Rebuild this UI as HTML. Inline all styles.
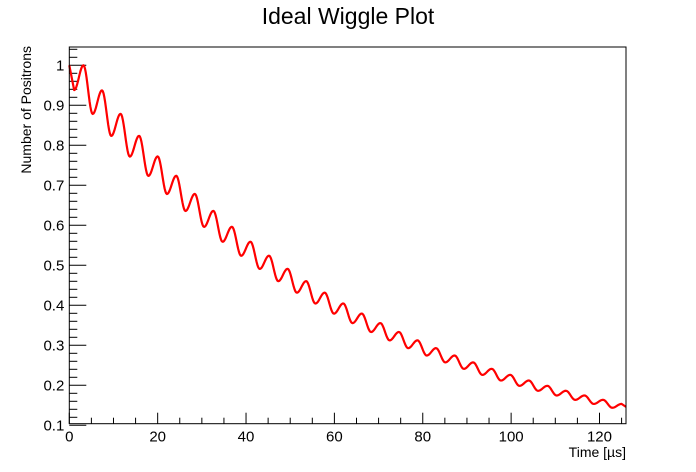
<!DOCTYPE html>
<html><head><meta charset="utf-8"><style>
html,body{margin:0;padding:0;background:#fff;}
svg{display:block;font-family:"Liberation Sans",sans-serif;}
</style></head><body>
<svg id="chart" width="696" height="472" viewBox="0 0 696 472">
<rect x="0" y="0" width="696" height="472" fill="#fff"/>
<text x="348" y="24" font-size="23" text-anchor="middle">Ideal Wiggle Plot</text>
<text transform="translate(31,46) rotate(-90)" font-size="14" text-anchor="end">Number of Positrons</text>
<text x="626" y="457" font-size="14" text-anchor="end">Time [µs]</text>
<g id="ticks"></g>
<g id="plot"></g>
<rect x="69.3" y="47" width="556.7" height="376.7" fill="none" stroke="#000" stroke-width="1"/>
</svg>
<script>
const peakTimes0 = 3.2;
const period = 4.2;
const peakValues = [1.0,0.9374,0.8787,0.8237,0.7722,0.7238,0.6785,0.6361,0.5963,0.5589,0.5240,0.4912,0.4604,0.4316,0.4046,0.3793,0.3555,0.3333,0.3124,0.2929,0.2745,0.2573,0.2412,0.2261,0.2120,0.1987,0.1863,0.1746,0.1637,0.1535];
const troughValues = [0.8784,0.8234,0.7718,0.7235,0.6783,0.6358,0.5960,0.5588,0.5238,0.4909,0.4603,0.4315,0.4044,0.3791,0.3554,0.3332,0.3123,0.2928,0.2744,0.2573,0.2411,0.2260,0.2119,0.1986,0.1862,0.1745,0.1636,0.1534,0.1438];
const firstTrough = [1.1, 0.938];
const startPoint = [0, 1.0];
const endPoint = [126, 0.146];
const xTickLabels = [0,20,40,60,80,100,120];
const yTickLabels = [0.1,0.2,0.3,0.4,0.5,0.6,0.7,0.8,0.9,1];

const X0=69.3, X1=626, XMIN=0, XMAX=126;
const YB=423.7, Y1=65.3;
function xs(t){return X0+(t-XMIN)*(X1-X0)/(XMAX-XMIN);}
function ys(v){return Y1+(1-v)*400;}
const NS="http://www.w3.org/2000/svg";
const tg=document.getElementById('ticks');
const pg=document.getElementById('plot');
function mk(tag,attrs,parent){const e=document.createElementNS(NS,tag);for(const k in attrs)e.setAttribute(k,attrs[k]);parent.appendChild(e);return e;}

for(let t=0;t<=XMAX;t+=5){
  const major=(t%20===0);
  const l=mk('line',{x1:xs(t),x2:xs(t),y1:YB,y2:YB-(major?11:6),stroke:'#000','stroke-width':1},tg);
  
  
}
xTickLabels.forEach(v=>{
  const tx=mk('text',{x:xs(v),y:YB+18,'font-size':15,'text-anchor':'middle'},tg);
  tx.textContent=String(v);
  
  
});
for(let i=0;i<=47;i++){
  const v=0.1+i*0.02; if(ys(v)<47) break;
  const major=(i%5===0);
  const l=mk('line',{x1:X0,x2:X0+(major?17:8),y1:ys(v),y2:ys(v),stroke:'#000','stroke-width':1},tg);
  
  
}
yTickLabels.forEach(v=>{
  const tx=mk('text',{x:X0-5,y:ys(v)+5,'font-size':15,'text-anchor':'end'},tg);
  tx.textContent=String(v);
  
  
});

const ext=[startPoint,firstTrough];
for(let j=0;j<peakValues.length;j++){
  ext.push([peakTimes0+j*period,peakValues[j]]);
  if(j<troughValues.length) ext.push([peakTimes0+period/2+j*period,troughValues[j]]);
}
ext.push(endPoint);
let d='';
for(let i=0;i<ext.length-1;i++){
  const [t0,v0]=ext[i],[t1,v1]=ext[i+1];
  const n=12;
  for(let k=(i===0?0:1);k<=n;k++){
    const f=k/n;
    const tt=t0+(t1-t0)*f;
    const w=(i===0||i===ext.length-2)?f:(1-Math.cos(Math.PI*f))/2;
    const vv=v0+(v1-v0)*w;
    d+=(d?'L':'M')+xs(tt).toFixed(2)+','+ys(vv).toFixed(2);
  }
}
const p=mk('path',{d:d,fill:'none',stroke:'#ff0000','stroke-width':2.2,'stroke-linejoin':'round'},pg);


</script>
</body></html>
